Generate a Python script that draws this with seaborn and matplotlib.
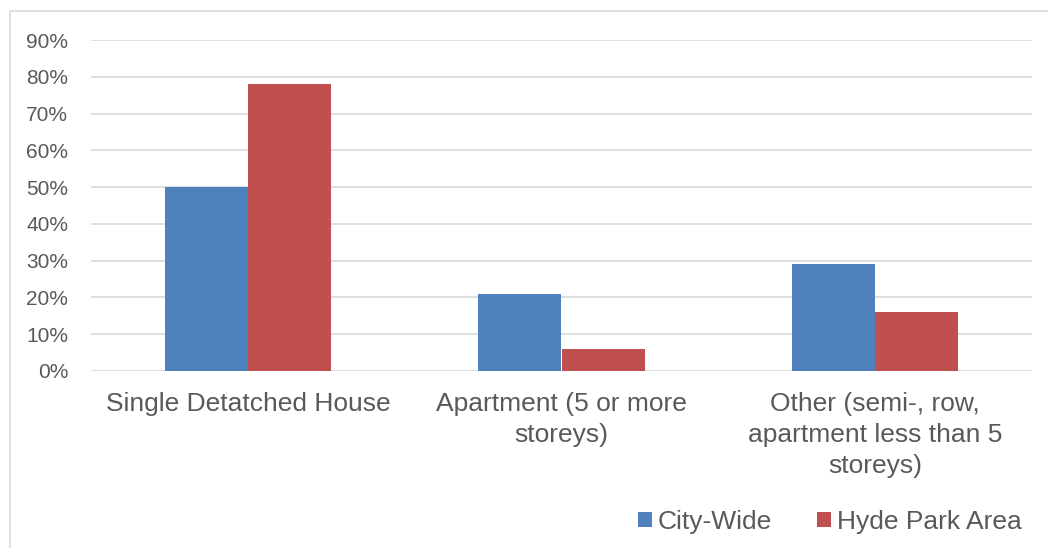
import matplotlib
matplotlib.use("Agg")
import matplotlib.pyplot as plt
from matplotlib.patches import Rectangle
from matplotlib.ticker import PercentFormatter
import seaborn as sns
import pandas as pd

categories = ["Single Detatched House", "Apartment (5 or more\nstoreys)",
              "Other (semi-, row,\napartment less than 5\nstoreys)"]
city_wide = [0.50, 0.21, 0.29]
hyde_park = [0.78, 0.06, 0.16]
series_names = ["City-Wide", "Hyde Park Area"]
yticks = [0, 0.1, 0.2, 0.3, 0.4, 0.5, 0.6, 0.7, 0.8, 0.9]

df = pd.DataFrame({
    "Category": categories * 2,
    "Value": city_wide + hyde_park,
    "Series": [series_names[0]] * 3 + [series_names[1]] * 3,
})

sns.set_theme(style="white")
plt.rcParams["font.family"] = ["Liberation Sans", "DejaVu Sans"]

fig = plt.figure(figsize=(10.48, 5.48), dpi=100)
ax = fig.add_axes([91/1048, 1 - 371/548, (1032 - 91)/1048, (371 - 40)/548])

sns.barplot(data=df, x="Category", y="Value", hue="Series", order=categories,
            hue_order=series_names, palette=["#4F81BD", "#C0504D"],
            width=0.53, saturation=1, ax=ax, legend=True, linewidth=0)

ax.set_ylim(0, 0.9)
ax.set_xlim(-0.5, 2.5)
ax.set_yticks(yticks)
ax.yaxis.set_major_formatter(PercentFormatter(1.0, decimals=0))
ax.grid(axis="y", color="#D9D9D9", linewidth=1.2)
ax.set_axisbelow(True)
for s in ax.spines.values():
    s.set_visible(False)
ax.set_xlabel("")
ax.set_ylabel("")
ax.tick_params(axis="y", length=0, pad=16.5, labelsize=15, labelcolor="#595959")
ax.tick_params(axis="x", length=0, pad=15, labelsize=19, labelcolor="#595959")
for lbl in ax.get_xticklabels():
    lbl.set_linespacing(1.38)

leg = ax.legend(loc="center", bbox_to_anchor=(830/1048, 1 - 522/548),
                bbox_transform=fig.transFigure, ncol=2, frameon=False,
                fontsize=19, handlelength=0.53, handleheight=0.53,
                handletextpad=0.23, columnspacing=1.7, labelcolor="#595959")

fig.add_artist(Rectangle((10/1048, -0.5), 2, 0.5 + 1 - 11/548,
                         transform=fig.transFigure, fill=False,
                         edgecolor="#D9D9D9", linewidth=1.2))

fig.savefig("out.png", dpi=100, facecolor="white")
